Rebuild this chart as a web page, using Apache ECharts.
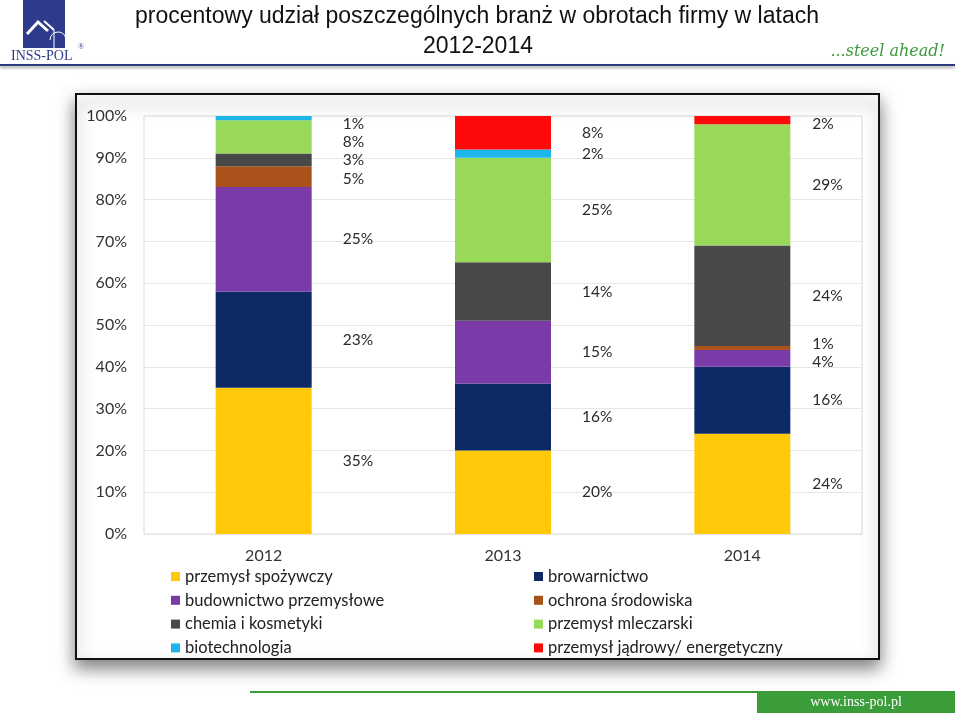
<!DOCTYPE html>
<html><head><meta charset="utf-8">
<script src="https://cdn.jsdelivr.net/npm/echarts@6/dist/echarts.min.js"></script>
<style>html,body{margin:0;padding:0;background:#fff}#c{width:960px;height:716px}</style>
</head><body><div id="c"></div>
<script>
const years = ['2012', '2013', '2014'];
const seriesNames = ['przemysł spożywczy', 'browarnictwo', 'budownictwo przemysłowe', 'ochrona środowiska', 'chemia i kosmetyki', 'przemysł mleczarski', 'biotechnologia', 'przemysł jądrowy/ energetyczny'];
const spozywczy = [35, 20, 24];
const browarnictwo = [23, 16, 16];
const budownictwo = [25, 15, 4];
const ochrona = [5, 0, 1];
const chemia = [3, 14, 24];
const mleczarski = [8, 25, 29];
const biotechnologia = [1, 2, 0];
const jadrowy = [0, 8, 2];
const yTicks = [0, 10, 20, 30, 40, 50, 60, 70, 80, 90, 100];
const colors = ['#FFC90A', '#0E2A66', '#7A3AA7', '#A9521A', '#484848', '#98D95A', '#1DB6EA', '#FF0A0A'];
const values = [spozywczy, browarnictwo, budownictwo, ochrona, chemia, mleczarski, biotechnologia, jadrowy];

// resolve label overlaps (in value units) per column
const MIN_GAP = 4.4, TOP_MAX = 98.2;
const labelShift = years.map((_, j) => {
  let cum = 0;
  const items = [];
  values.forEach((v, i) => {
    if (v[j] > 0) items.push({i, c: cum + v[j] / 2, p: cum + v[j] / 2});
    cum += v[j];
  });
  for (let it = 0; it < 60; it++) {
    for (let k = items.length - 1; k >= 0; k--) {
      if (items[k].p > TOP_MAX) items[k].p = TOP_MAX;
    }
    for (let k = 0; k < items.length - 1; k++) {
      const d = items[k + 1].p - items[k].p;
      if (d < MIN_GAP) {
        const m = (MIN_GAP - d) / 2;
        items[k].p -= m; items[k + 1].p += m;
      }
    }
  }
  const res = {};
  items.forEach(o => { res[o.i] = o.p - o.c; });
  return res;
});

const chart = echarts.init(document.getElementById('c'), null, {renderer: 'canvas'});
const font = 'Lato, "Noto Sans", sans-serif';

const series = values.map((v, i) => ({
  name: seriesNames[i], type: 'bar', stack: 'a', barWidth: 96,
  itemStyle: {color: colors[i]},
  data: v,
  label: {show: true, position: 'right', distance: 31, color: '#2a2a2a', fontSize: 15.5, fontFamily: font,
    formatter: p => p.value > 0 ? p.value + '%' : ''},
  labelLayout: function (params) {
    const val = v[params.dataIndex];
    if (!(val > 0) || !params.rect.height) return {};
    const pxPerUnit = params.rect.height / val;
    const shift = labelShift[params.dataIndex][i] || 0;
    return {dy: -shift * pxPerUnit, dx: params.dataIndex === 2 ? -9 : 0};
  }
}));

const option = {
  animation: false,
  backgroundColor: '#fff',
  grid: {left: 144, right: 98, top: 116, bottom: 182, show: true, borderColor: '#d9d9d9', borderWidth: 1},
  xAxis: {type: 'category', data: years, axisTick: {show: false}, axisLine: {show: false},
    axisLabel: {fontSize: 16, color: '#333', fontFamily: font, margin: 14}},
  yAxis: {type: 'value', min: yTicks[0], max: yTicks[yTicks.length - 1], interval: yTicks[1] - yTicks[0],
    axisLine: {show: false}, axisTick: {show: false},
    splitLine: {lineStyle: {color: '#e6e6e6'}},
    axisLabel: {fontSize: 16, color: '#333', fontFamily: font, margin: 17, formatter: '{value}%'}},
  legend: [
    {orient: 'vertical', left: 166, top: 563, itemWidth: 9, itemHeight: 9, itemGap: 6.8, icon: 'rect',
      textStyle: {fontSize: 16.5, color: '#222', fontFamily: font, lineHeight: 17},
      data: [seriesNames[0], seriesNames[2], seriesNames[4], seriesNames[6]]},
    {orient: 'vertical', left: 529, top: 563, itemWidth: 9, itemHeight: 9, itemGap: 6.8, icon: 'rect',
      textStyle: {fontSize: 16.5, color: '#222', fontFamily: font, lineHeight: 17},
      data: [seriesNames[1], seriesNames[3], seriesNames[5], seriesNames[7]]}
  ],
  graphic: [
    {type: 'rect', z: -10, shape: {x: 76, y: 94, width: 803, height: 565},
      style: {fill: '#fff', stroke: '#111', lineWidth: 2, shadowBlur: 16, shadowColor: 'rgba(0,0,0,0.5)', shadowOffsetY: 8}},
    // logo
    {type: 'rect', shape: {x: 23, y: 0, width: 42, height: 48}, style: {fill: '#2E3A8C'}},
    {type: 'polyline', shape: {points: [[27, 34], [38, 22], [48, 31]]}, style: {stroke: '#fff', lineWidth: 3, fill: null}},
    {type: 'line', shape: {x1: 44, y1: 21, x2: 54, y2: 30}, style: {stroke: '#fff', lineWidth: 2}},
    {type: 'arc', shape: {cx: 58, cy: 40, r: 8, startAngle: Math.PI, endAngle: Math.PI * 1.9}, style: {stroke: '#fff', lineWidth: 1, fill: null}},
    {type: 'line', shape: {x1: 54, y1: 30, x2: 54, y2: 48}, style: {stroke: '#fff', lineWidth: 1}},
    {type: 'text', x: 11, y: 49, style: {text: 'INSS-POL', fontSize: 14, fontFamily: '"Liberation Serif", serif', fill: '#2E3A8C'}},
    {type: 'text', x: 78, y: 43, style: {text: '®', fontSize: 8, fontFamily: '"Liberation Serif", serif', fill: '#2E3A8C'}},
    // title
    {type: 'text', x: 477, y: 5, style: {text: 'procentowy udział poszczególnych branż w obrotach firmy w latach', align: 'center', fontSize: 23, fontFamily: '"Liberation Sans", Arial, sans-serif', fill: '#111'}},
    {type: 'text', x: 478, y: 35, style: {text: '2012-2014', align: 'center', fontSize: 23, fontFamily: '"Liberation Sans", Arial, sans-serif', fill: '#111'}},
    {type: 'text', x: 945, y: 44, style: {text: '...steel ahead!', align: 'right', fontSize: 16, fontStyle: 'italic', fontFamily: '"DejaVu Serif", serif', fill: '#3C9A3C'}},
    {type: 'rect', shape: {x: 0, y: 64, width: 955, height: 2}, style: {fill: '#2B3A78', shadowBlur: 3, shadowColor: 'rgba(0,0,0,0.4)', shadowOffsetY: 2}},
    // footer
    {type: 'rect', shape: {x: 250, y: 691, width: 705, height: 2}, style: {fill: '#3A9D3A'}},
    {type: 'rect', shape: {x: 757, y: 692, width: 198, height: 21}, style: {fill: '#3A9D3A'}},
    {type: 'text', x: 856, y: 695, style: {text: 'www.inss-pol.pl', align: 'center', fontSize: 14, fontFamily: '"Liberation Serif", serif', fill: '#fff'}}
  ],
  series: series
};
chart.setOption(option);
</script></body></html>
